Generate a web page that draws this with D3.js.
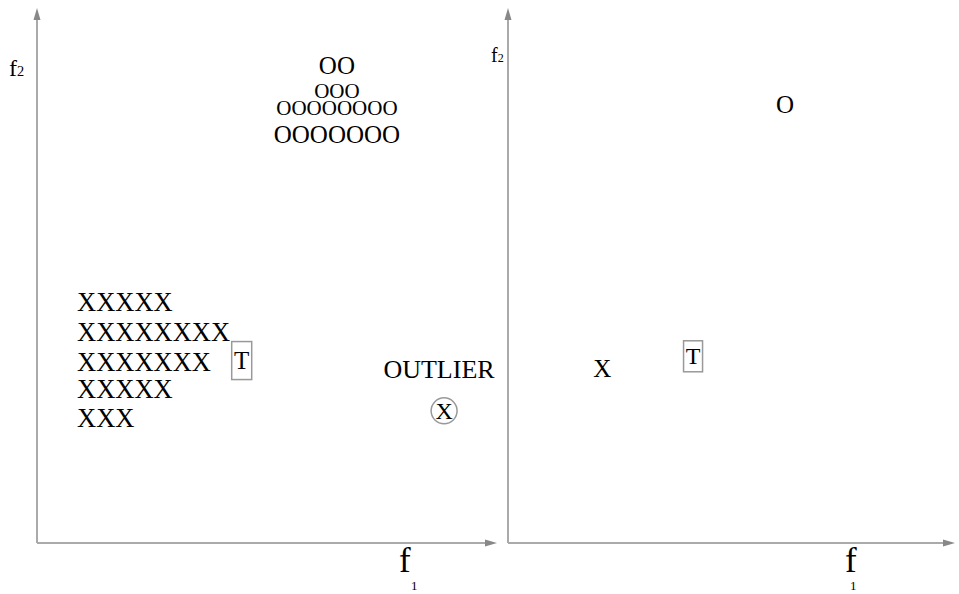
<!DOCTYPE html>
<html>
<head>
<meta charset="utf-8">
<script src="https://cdn.jsdelivr.net/npm/d3@7"></script>
<style>
body { margin: 0; background: #fff; }
text { font-family: "Liberation Serif", "Times New Roman", serif; fill: #000; }
</style>
</head>
<body>
<script>
// left panel: training samples in feature space (f1, f2), units 0..10
var oRows = ["OO", "OOO", "OOOOOOOO", "OOOOOOO"],
	oRowY = [8.92, 8.46, 8.13, 7.64],
	oCenterX = 6.52;

var xRows = ["XXXXX", "XXXXXXXX", "XXXXXXX", "XXXXX", "XXX"],
	xRowY = [4.51, 3.95, 3.39, 2.88, 2.34],
	xLeftX = 0.87;

var testPoint = [4.45, 3.41],
	outlierPoint = [8.85, 2.47],
	outlierLabel = "OUTLIER",
	outlierLabelPos = [8.74, 3.25];

// right panel: class prototypes
var protoLabels = ["O", "X", "T"],
	protoX = [6.20, 2.11, 4.14],
	protoY = [8.19, 3.26, 3.49];

var width = 959, height = 594;

var svg = d3.select("body").append("svg")
	.attr("width", width)
	.attr("height", height);

var axisColor = "#aaa",
	boxColor = "#999";

function makePanel(x0, x1) {
	return {
		x: d3.scaleLinear().domain([0, 10]).range([x0, x1]),
		y: d3.scaleLinear().domain([0, 10]).range([543, 8])
	};
}

var left = makePanel(37, 497),
	right = makePanel(508, 955);

// axes with arrow heads
function drawAxes(p, yLab, xLab) {
	var g = svg.append("g");
	var ox = p.x(0), oy = p.y(0), tx = p.x(10), ty = p.y(10);

	g.append("line")
		.attr("x1", ox).attr("y1", oy).attr("x2", ox).attr("y2", ty + 6)
		.attr("stroke", axisColor).attr("stroke-width", 2);
	g.append("line")
		.attr("x1", ox).attr("y1", oy).attr("x2", tx - 6).attr("y2", oy)
		.attr("stroke", axisColor).attr("stroke-width", 2);

	g.append("path")
		.attr("d", "M" + ox + "," + ty + "L" + (ox - 3.5) + "," + (ty + 12) + "L" + (ox + 3.5) + "," + (ty + 12) + "Z")
		.attr("fill", "#888");
	g.append("path")
		.attr("d", "M" + tx + "," + oy + "L" + (tx - 12) + "," + (oy - 3.5) + "L" + (tx - 12) + "," + (oy + 3.5) + "Z")
		.attr("fill", "#888");

	// f2 label
	var t = g.append("text")
		.attr("x", ox + yLab.dx)
		.attr("y", yLab.y)
		.style("font-size", yLab.size + "px");
	t.append("tspan").text("f");
	t.append("tspan").style("font-size", (yLab.size * 0.6) + "px").text("2");

	// f1 label (the subscript sits well below)
	g.append("text")
		.attr("x", ox + xLab.dx)
		.attr("y", oy + 29)
		.style("font-size", "35px")
		.text("f");
	g.append("text")
		.attr("x", ox + xLab.dx + xLab.subDx)
		.attr("y", oy + 47)
		.style("font-size", "13px")
		.text("1");
}

drawAxes(left, {dx: -28, y: 76, size: 24}, {dx: 362, subDx: 12});
drawAxes(right, {dx: -17, y: 62, size: 20}, {dx: 337, subDx: 5});

// O cluster
var oFont = [25, 21, 21, 25];
svg.append("g").selectAll("text")
	.data(oRows)
	.enter().append("text")
	.attr("x", left.x(oCenterX))
	.attr("y", function(d, i) { return left.y(oRowY[i]); })
	.attr("dy", "0.34em")
	.attr("text-anchor", "middle")
	.style("font-size", function(d, i) { return oFont[i] + "px"; })
	.text(function(d) { return d; });

// X cluster
svg.append("g").selectAll("text")
	.data(xRows)
	.enter().append("text")
	.attr("x", left.x(xLeftX))
	.attr("y", function(d, i) { return left.y(xRowY[i]); })
	.attr("dy", "0.34em")
	.style("font-size", "26.5px")
	.text(function(d) { return d; });

// boxed test sample
function boxedT(p, pt, w, h, size) {
	var cx = p.x(pt[0]), cy = p.y(pt[1]);
	svg.append("rect")
		.attr("x", cx - w / 2).attr("y", cy - h / 2)
		.attr("width", w).attr("height", h)
		.attr("fill", "none")
		.attr("stroke", boxColor)
		.attr("stroke-width", 1.5);
	svg.append("text")
		.attr("x", cx).attr("y", cy)
		.attr("dy", "0.34em")
		.attr("text-anchor", "middle")
		.style("font-size", size + "px")
		.text("T");
}

boxedT(left, testPoint, 20, 38, 25);

// outlier
svg.append("text")
	.attr("x", left.x(outlierLabelPos[0]))
	.attr("y", left.y(outlierLabelPos[1]))
	.attr("dy", "0.34em")
	.attr("text-anchor", "middle")
	.style("font-size", "26px")
	.text(outlierLabel);

svg.append("circle")
	.attr("cx", left.x(outlierPoint[0]))
	.attr("cy", left.y(outlierPoint[1]))
	.attr("r", 13)
	.attr("fill", "none")
	.attr("stroke", boxColor)
	.attr("stroke-width", 1.5);
svg.append("text")
	.attr("x", left.x(outlierPoint[0]))
	.attr("y", left.y(outlierPoint[1]))
	.attr("dy", "0.34em")
	.attr("text-anchor", "middle")
	.style("font-size", "24px")
	.text("X");

// right panel prototypes
protoLabels.forEach(function(lab, i) {
	if (lab == "T") {
		boxedT(right, [protoX[i], protoY[i]], 19, 31, 24);
	} else {
		svg.append("text")
			.attr("x", right.x(protoX[i]))
			.attr("y", right.y(protoY[i]))
			.attr("dy", "0.34em")
			.attr("text-anchor", "middle")
			.style("font-size", "25px")
			.text(lab);
	}
});
</script>
</body>
</html>
